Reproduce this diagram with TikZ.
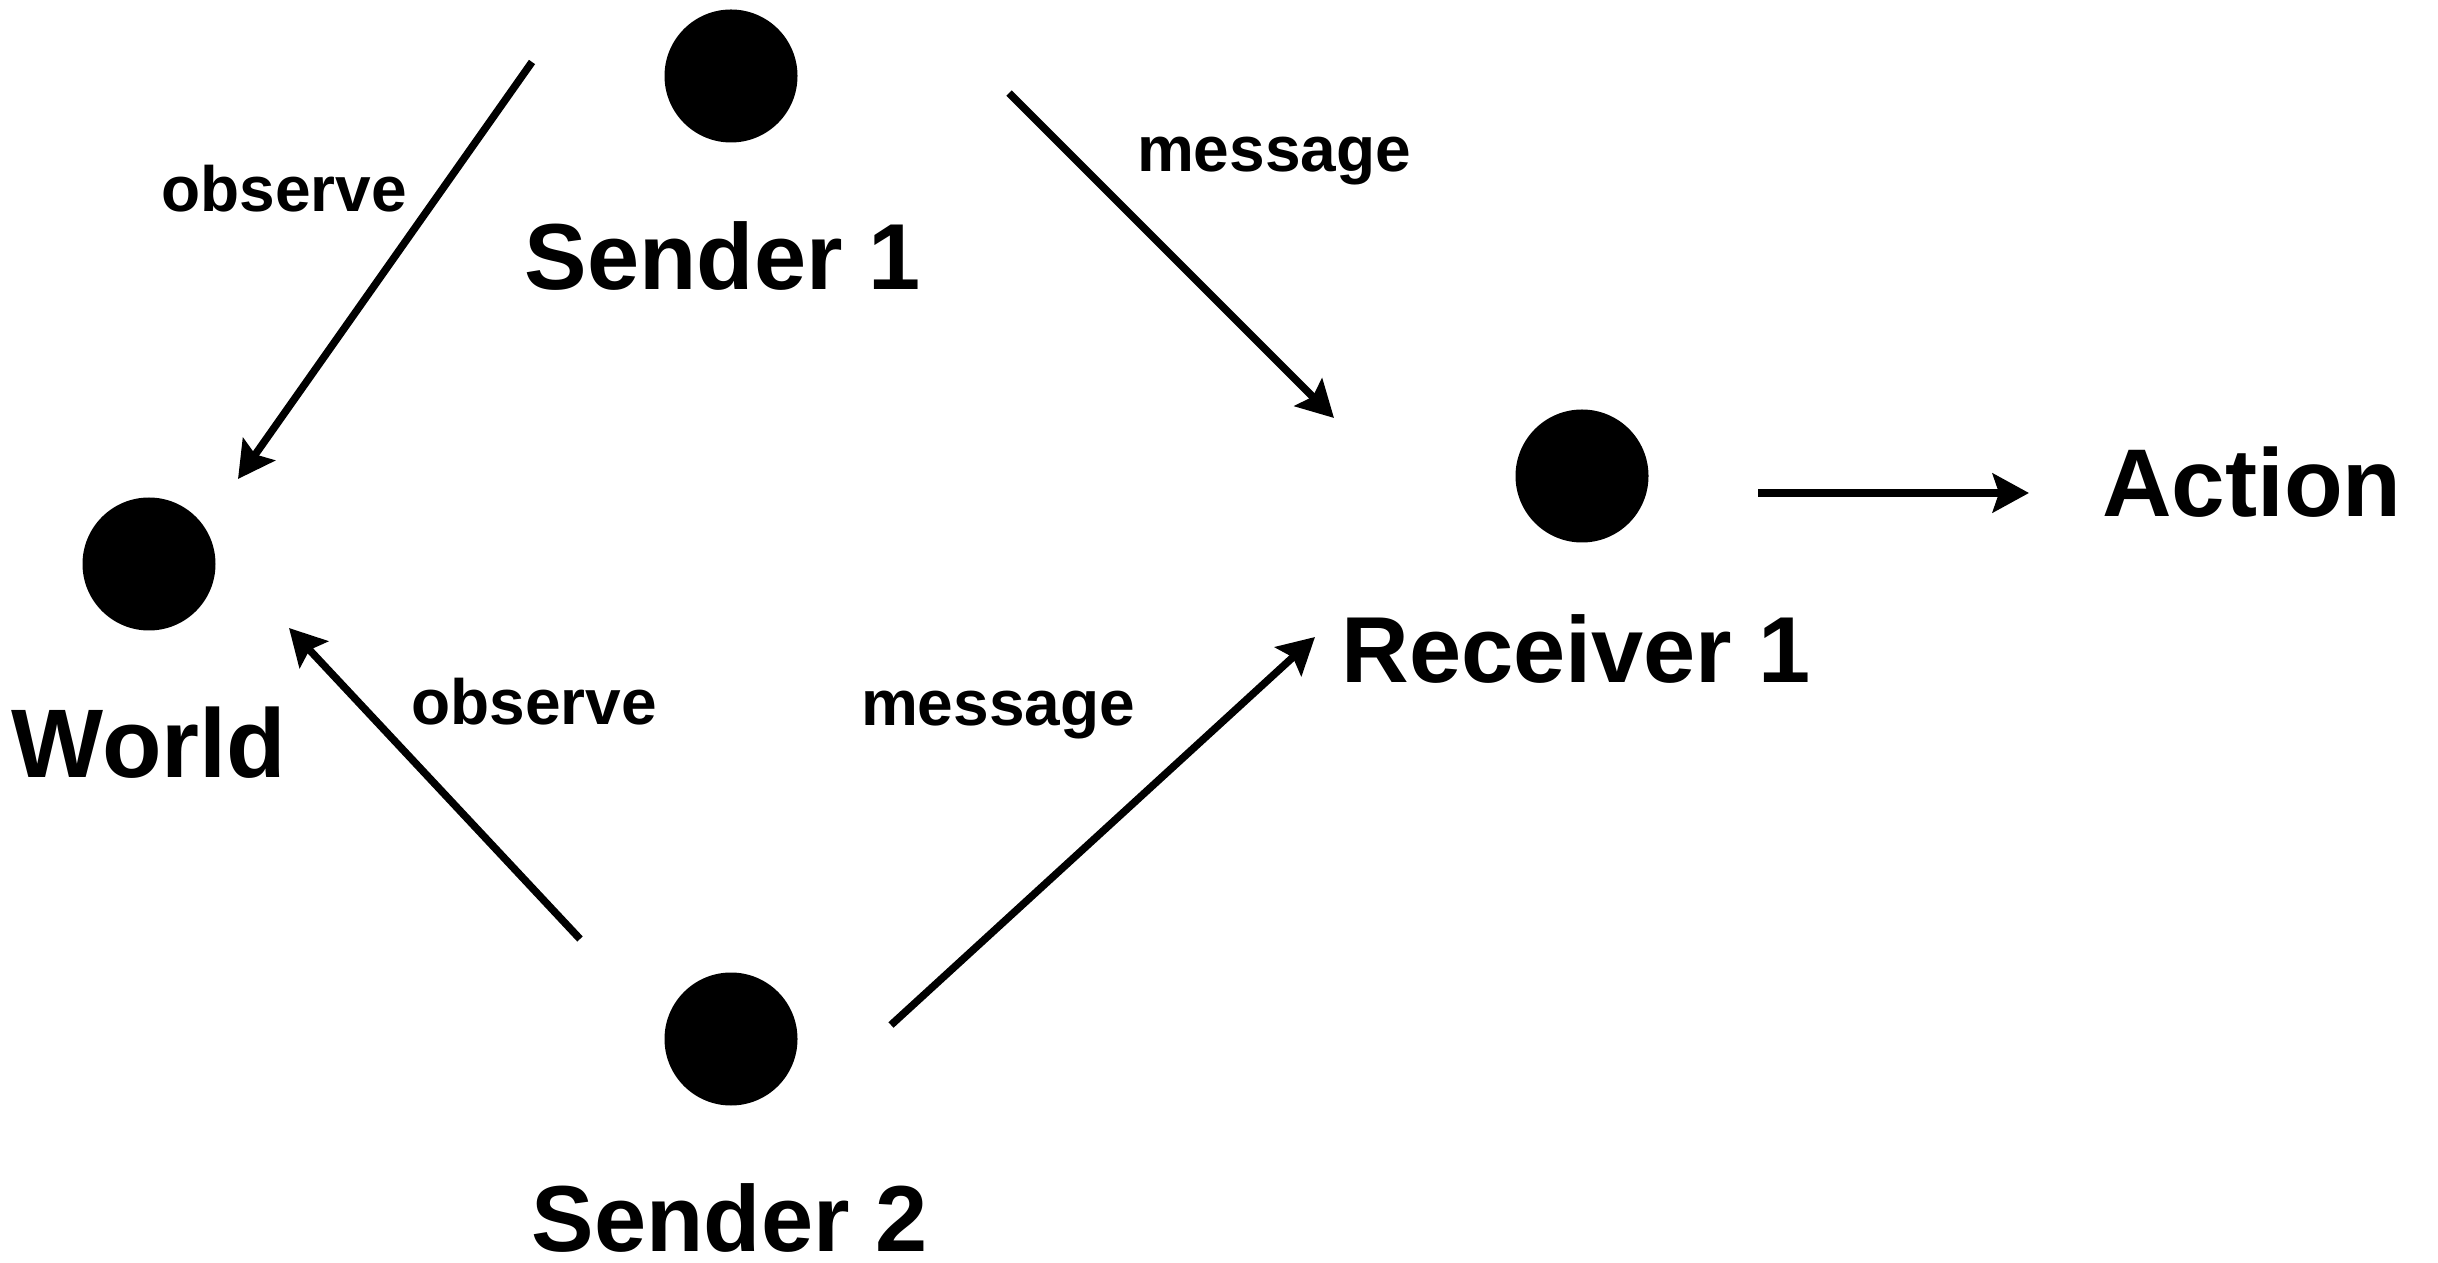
\documentclass[tikz,border=0pt]{standalone}
\usepackage{fontspec}
\setmainfont{Liberation Sans}
\usetikzlibrary{arrows.meta}
\begin{document}
\begin{tikzpicture}[x=0.4pt,y=-0.4pt,
  dot/.style={circle,fill=black,draw=none,minimum size=53.2pt,inner sep=0pt},
  biglab/.style={anchor=base,inner sep=0pt,font=\fontsize{37.5}{40}\selectfont\bfseries},
  smalllab/.style={anchor=base,inner sep=0pt,font=\fontsize{25.6}{28}\selectfont\bfseries},
  arr/.style={line width=3pt,-{Stealth[length=14.5pt,width=15.5pt,inset=2.5pt]}}]
\useasboundingbox (0,0) rectangle (2438,1263);
% dots
\node[dot] (s1) at (731,76) {};
\node[dot] (w) at (149,564) {};
\node[dot] (r1) at (1582,476) {};
\node[dot] (s2) at (731,1039) {};
% labels
\node[biglab] (s1lab) at (723,290) {Sender 1};
\node[biglab,font=\fontsize{39}{40}\selectfont\bfseries] (wlab) at (149,778) {World};
\node[biglab] (r1lab) at (1576,683) {Receiver 1};
\node[biglab] (s2lab) at (730,1251) {Sender 2};
\node[biglab,font=\fontsize{38.5}{40}\selectfont\bfseries] (act) at (2252,517) {Action};
\node[smalllab] (ob1) at (284,212) {observe};
\node[smalllab] (ob2) at (534,725) {observe};
\node[smalllab] (ms1) at (1274,172) {message};
\node[smalllab] (ms2) at (998,726) {message};
% arrow end points
\coordinate (a1s) at (532,62);
\coordinate (a1e) at (238,479);
\coordinate (a2s) at (1009,93);
\coordinate (a2e) at (1334,418);
\coordinate (a3s) at (580,939);
\coordinate (a3e) at (289,628);
\coordinate (a4s) at (891,1025);
\coordinate (a4e) at (1315,637);
\coordinate (a5s) at (1758,493);
\coordinate (a5e) at (2029,493);
\draw[arr] (a1s) -- (a1e);
\draw[arr] (a2s) -- (a2e);
\draw[arr] (a3s) -- (a3e);
\draw[arr] (a4s) -- (a4e);
\draw[arr] (a5s) -- (a5e);
\end{tikzpicture}
\end{document}
